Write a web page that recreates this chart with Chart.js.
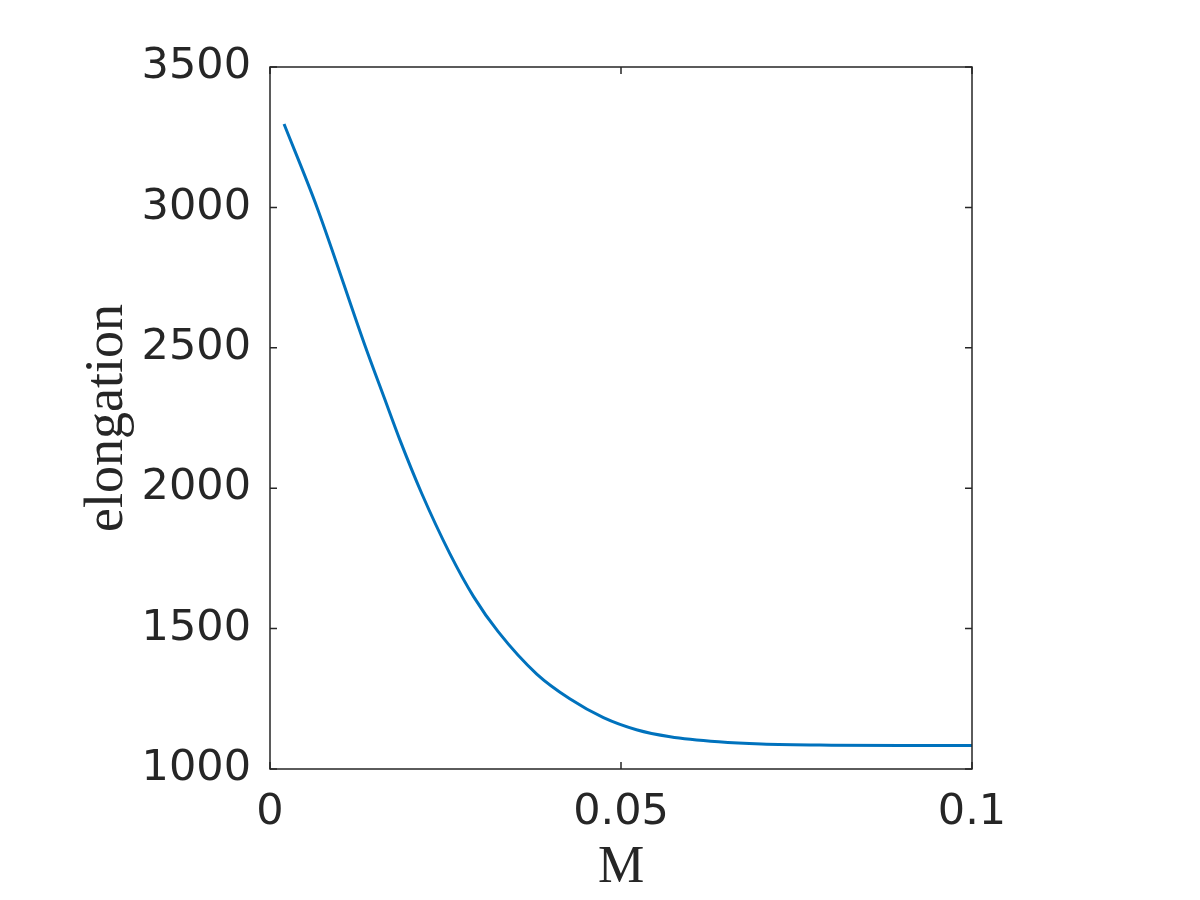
<!DOCTYPE html>
<html>
<head>
<meta charset="utf-8">
<title>elongation vs M</title>
<script src="https://cdn.jsdelivr.net/npm/chart.js@4"></script>
<style>
  body { margin: 0; background: #fff; }
  #wrap { width: 1200px; height: 900px; }
</style>
</head>
<body>
<div id="wrap"><canvas id="chart-elong" width="1200" height="900"></canvas></div>
<script>
// values
const mValues = [0.002, 0.0067, 0.0135, 0.0163, 0.0185, 0.0216, 0.0256, 0.0290, 0.0325, 0.0380,
                 0.0427, 0.0475, 0.0522, 0.0570, 0.0639, 0.070, 0.080, 0.090, 0.100];
const elongValues = [3297, 3000, 2510, 2320, 2172, 1982, 1768, 1614, 1489, 1338,
                     1250, 1183, 1140, 1115, 1097, 1089, 1085, 1084, 1084];
const xTickValues = [0, 0.05, 0.1];
const xTickLabels = ['0', '0.05', '0.1'];
const yTickValues = [1000, 1500, 2000, 2500, 3000, 3500];
const yTickLabels = ['1000', '1500', '2000', '2500', '3000', '3500'];

const axisColor = '#262626';

function labelFor(values, labels, v) {
    for (let i = 0; i < values.length; i++) {
        if (Math.abs(values[i] - v) < 1e-9 * Math.max(1, Math.abs(v))) return labels[i];
    }
    return '';
}

// box around the plot plus inward tick marks on all four sides
const boxPlugin = {
    id: 'box',
    afterDraw: function(chart) {
        const ctx = chart.ctx;
        const a = chart.chartArea;
        const xs = chart.scales.x;
        const ys = chart.scales.y;
        const len = 7;
        ctx.save();
        ctx.strokeStyle = axisColor;
        ctx.lineWidth = 1.5;
        ctx.strokeRect(a.left, a.top, a.right - a.left, a.bottom - a.top);
        ctx.beginPath();
        xTickValues.forEach(v => {
            const px = xs.getPixelForValue(v);
            ctx.moveTo(px, a.bottom); ctx.lineTo(px, a.bottom - len);
            ctx.moveTo(px, a.top); ctx.lineTo(px, a.top + len);
        });
        yTickValues.forEach(v => {
            const py = ys.getPixelForValue(v);
            ctx.moveTo(a.left, py); ctx.lineTo(a.left + len, py);
            ctx.moveTo(a.right, py); ctx.lineTo(a.right - len, py);
        });
        ctx.stroke();
        ctx.restore();
    }
};

Chart.defaults.font.family = '"DejaVu Sans", sans-serif';
Chart.defaults.color = axisColor;

new Chart(document.getElementById('chart-elong'), {
    type: 'line',
    data: {
        datasets: [{
            data: mValues.map((m, i) => ({ x: m, y: elongValues[i] })),
            borderColor: '#0072BD',
            borderWidth: 3,
            pointRadius: 0,
            fill: false,
            cubicInterpolationMode: 'monotone'
        }]
    },
    options: {
        responsive: false,
        animation: false,
        layout: { padding: { left: 0, top: 67, right: 228, bottom: 0 } },
        plugins: { legend: { display: false }, tooltip: { enabled: false } },
        scales: {
            x: {
                type: 'linear',
                min: 0, max: 0.1,
                afterBuildTicks: s => { s.ticks = xTickValues.map(v => ({ value: v })); },
                afterFit: s => { s.height = 131; },
                grid: { display: false, drawTicks: false },
                border: { display: false },
                ticks: {
                    font: { size: 43 },
                    color: axisColor,
                    padding: 18,
                    maxRotation: 0,
                    callback: v => labelFor(xTickValues, xTickLabels, v)
                },
                title: {
                    display: true,
                    text: 'M',
                    color: axisColor,
                    font: { family: '"Liberation Serif", serif', size: 52 },
                    padding: { top: 5, bottom: 0 }
                }
            },
            y: {
                type: 'linear',
                min: 1000, max: 3500,
                afterBuildTicks: s => { s.ticks = yTickValues.map(v => ({ value: v })); },
                afterFit: s => { s.width = 270; },
                grid: { display: false, drawTicks: false },
                border: { display: false },
                ticks: {
                    font: { size: 43 },
                    color: axisColor,
                    padding: 19,
                    callback: v => labelFor(yTickValues, yTickLabels, v)
                },
                title: {
                    display: true,
                    text: 'elongation',
                    color: axisColor,
                    font: { family: '"Liberation Serif", serif', size: 54 },
                    padding: { top: 75, bottom: 0 }
                }
            }
        }
    },
    plugins: [boxPlugin]
});
</script>
</body>
</html>
